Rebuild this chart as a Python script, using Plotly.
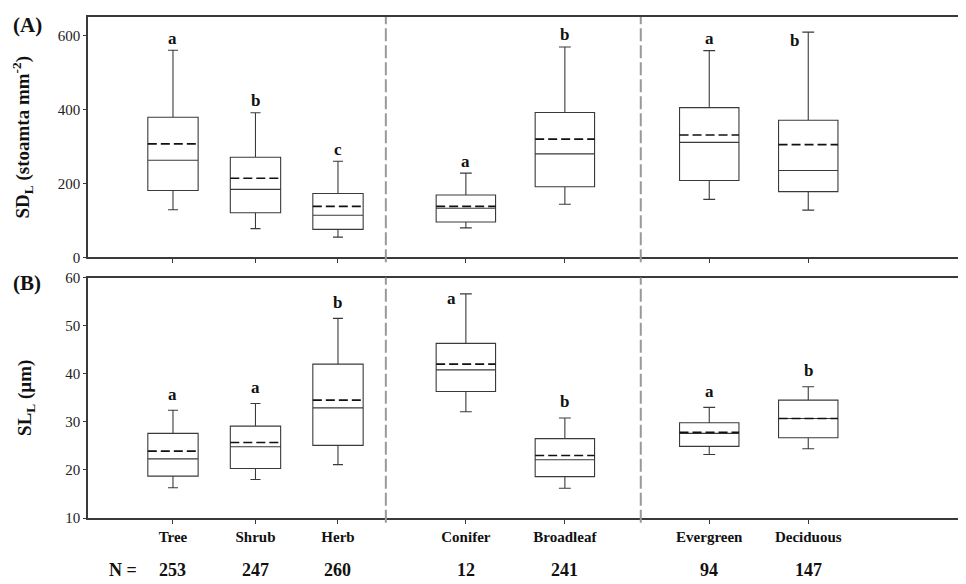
import plotly.graph_objects as go

# ---------------- data ----------------
categories = ["Tree", "Shrub", "Herb", "Conifer", "Broadleaf", "Evergreen", "Deciduous"]
positions = [1.0, 2.0, 3.0, 4.55, 5.75, 7.5, 8.7]
box_widths = [0.61, 0.61, 0.61, 0.72, 0.72, 0.72, 0.72]
n_counts = [253, 247, 260, 12, 241, 94, 147]
dividers = [3.58, 6.67]

# Panel A: SD_L (stomata mm^-2)
sd_low = [129, 78, 55, 80, 144, 157, 128]
sd_q1 = [181, 121, 76, 96, 191, 208, 178]
sd_median = [263, 184, 114, 133, 280, 311, 235]
sd_mean = [307, 214, 138, 138, 320, 331, 305]
sd_q3 = [379, 271, 173, 169, 392, 405, 371]
sd_high = [560, 391, 260, 228, 569, 559, 609]
sd_letters = ["a", "b", "c", "a", "b", "a", "b"]

# Panel B: SL_L (µm)
sl_low = [16.3, 18.0, 21.1, 32.1, 16.2, 23.2, 24.4]
sl_q1 = [18.7, 20.3, 25.1, 36.3, 18.6, 24.9, 26.7]
sl_median = [22.3, 24.8, 32.9, 40.8, 22.1, 27.6, 30.7]
sl_mean = [23.9, 25.7, 34.5, 42.0, 23.0, 27.8, 30.7]
sl_q3 = [27.6, 29.1, 42.0, 46.3, 26.5, 29.8, 34.5]
sl_high = [32.4, 33.8, 51.5, 56.6, 30.8, 33.0, 37.3]
sl_letters = ["a", "a", "b", "a", "b", "a", "b"]

sd_ticks = [0, 200, 400, 600]
sl_ticks = [10, 20, 30, 40, 50, 60]

FONT = "Liberation Serif, Times New Roman, serif"
LINE = "#3a3a3a"

fig = go.Figure()

def add_boxes(low, q1, med, mean, q3, high, xa, ya):
    for i in range(len(categories)):
        fig.add_trace(go.Box(
            x=[positions[i]], lowerfence=[low[i]], q1=[q1[i]], median=[med[i]],
            q3=[q3[i]], upperfence=[high[i]],
            boxpoints=False, width=box_widths[i], whiskerwidth=0.2,
            line=dict(color=LINE, width=1.1), fillcolor="rgba(0,0,0,0)",
            xaxis=xa, yaxis=ya, showlegend=False, hoverinfo="skip",
        ))
        # dashed mean line spanning the box
        half = box_widths[i] / 2
        fig.add_trace(go.Scatter(
            x=[positions[i] - half, positions[i] + half], y=[mean[i], mean[i]],
            mode="lines", line=dict(color="#111111", width=1.6, dash="9px,4px"),
            xaxis=xa, yaxis=ya, showlegend=False, hoverinfo="skip",
        ))

add_boxes(sd_low, sd_q1, sd_median, sd_mean, sd_q3, sd_high, "x", "y")
add_boxes(sl_low, sl_q1, sl_median, sl_mean, sl_q3, sl_high, "x2", "y2")

annotations = []
letter_font = dict(family=FONT, size=17, color="#111111")
# significance letters (panel A)
for i, (lt, hv) in enumerate(zip(sd_letters, sd_high)):
    xs, ys = 0, 12
    if categories[i] == "Deciduous":
        xs, ys = -14, -8
    annotations.append(dict(x=positions[i], y=hv, xref="x", yref="y", text="<b>%s</b>" % lt,
                            showarrow=False, font=letter_font, xshift=xs, yshift=ys))
for i, (lt, hv) in enumerate(zip(sl_letters, sl_high)):
    xs, ys = 0, 16
    if categories[i] == "Conifer":
        xs, ys = -14, -5
    annotations.append(dict(x=positions[i], y=hv, xref="x2", yref="y2", text="<b>%s</b>" % lt,
                            showarrow=False, font=letter_font, xshift=xs, yshift=ys))

# N row
nfont = dict(family=FONT, size=18, color="#111111")
for p, n in zip(positions, n_counts):
    annotations.append(dict(x=p, y=-0.104, xref="x2", yref="paper", text="<b>%d</b>" % n,
                            showarrow=False, yanchor="middle", font=nfont))
annotations.append(dict(x=positions[0], y=-0.104, xref="x2", yref="paper", text="<b>N =</b>",
                        showarrow=False, xanchor="right", yanchor="middle", xshift=-34, font=nfont))
# panel labels
annotations.append(dict(x=-0.088, y=0.985, xref="paper", yref="paper", text="<b>(A)</b>", showarrow=False,
                        xanchor="left", yanchor="middle", font=dict(family=FONT, size=21, color="#111111")))
annotations.append(dict(x=-0.088, y=0.47, xref="paper", yref="paper", text="<b>(B)</b>", showarrow=False,
                        xanchor="left", yanchor="middle", font=dict(family=FONT, size=21, color="#111111")))

shapes = []
for d in dividers:
    for xr, yr in (("x", "y domain"), ("x2", "y2 domain")):
        shapes.append(dict(type="line", xref=xr, yref=yr, x0=d, x1=d, y0=-0.02, y1=1.0,
                           line=dict(color="#999999", width=2, dash="13px,4px")))

xcommon = dict(range=[-0.03, 10.612], showline=True, linecolor=LINE, linewidth=1.5, mirror=True,
               ticks="outside", ticklen=4, tickcolor=LINE, tickvals=positions, showgrid=False,
               zeroline=False, automargin=False)
ycommon = dict(showline=True, linecolor=LINE, linewidth=1.5, ticks="outside", ticklen=3,
               tickcolor=LINE, showgrid=False, zeroline=False, automargin=False,
               tickfont=dict(family=FONT, size=15, color="#222222"))

fig.update_layout(
    width=958, height=576,
    margin=dict(l=80, r=0, t=9, b=66),
    paper_bgcolor="white", plot_bgcolor="white",
    font=dict(family=FONT, color="#111111"),
    xaxis=dict(**xcommon, domain=[0, 1], anchor="y", showticklabels=False),
    xaxis2=dict(**xcommon, domain=[0, 1], anchor="y2",
                ticktext=["<b>%s</b>" % c for c in categories],
                tickfont=dict(family=FONT, size=15, color="#111111")),
    yaxis=dict(**ycommon, domain=[0.52, 1.0], anchor="x", range=[0, 650], tickvals=sd_ticks,
               title=dict(text="<b>SD<sub>L</sub> (stoamta mm<sup>-2</sup>)</b>",
                          font=dict(family=FONT, size=19), standoff=23)),
    yaxis2=dict(**ycommon, domain=[0.0, 0.48], anchor="x2", range=[10, 60], tickvals=sl_ticks,
                title=dict(text="<b>SL<sub>L</sub> (µm)</b>", font=dict(family=FONT, size=19), standoff=29)),
    annotations=annotations,
    shapes=shapes,
)

fig.write_html("out.html")
